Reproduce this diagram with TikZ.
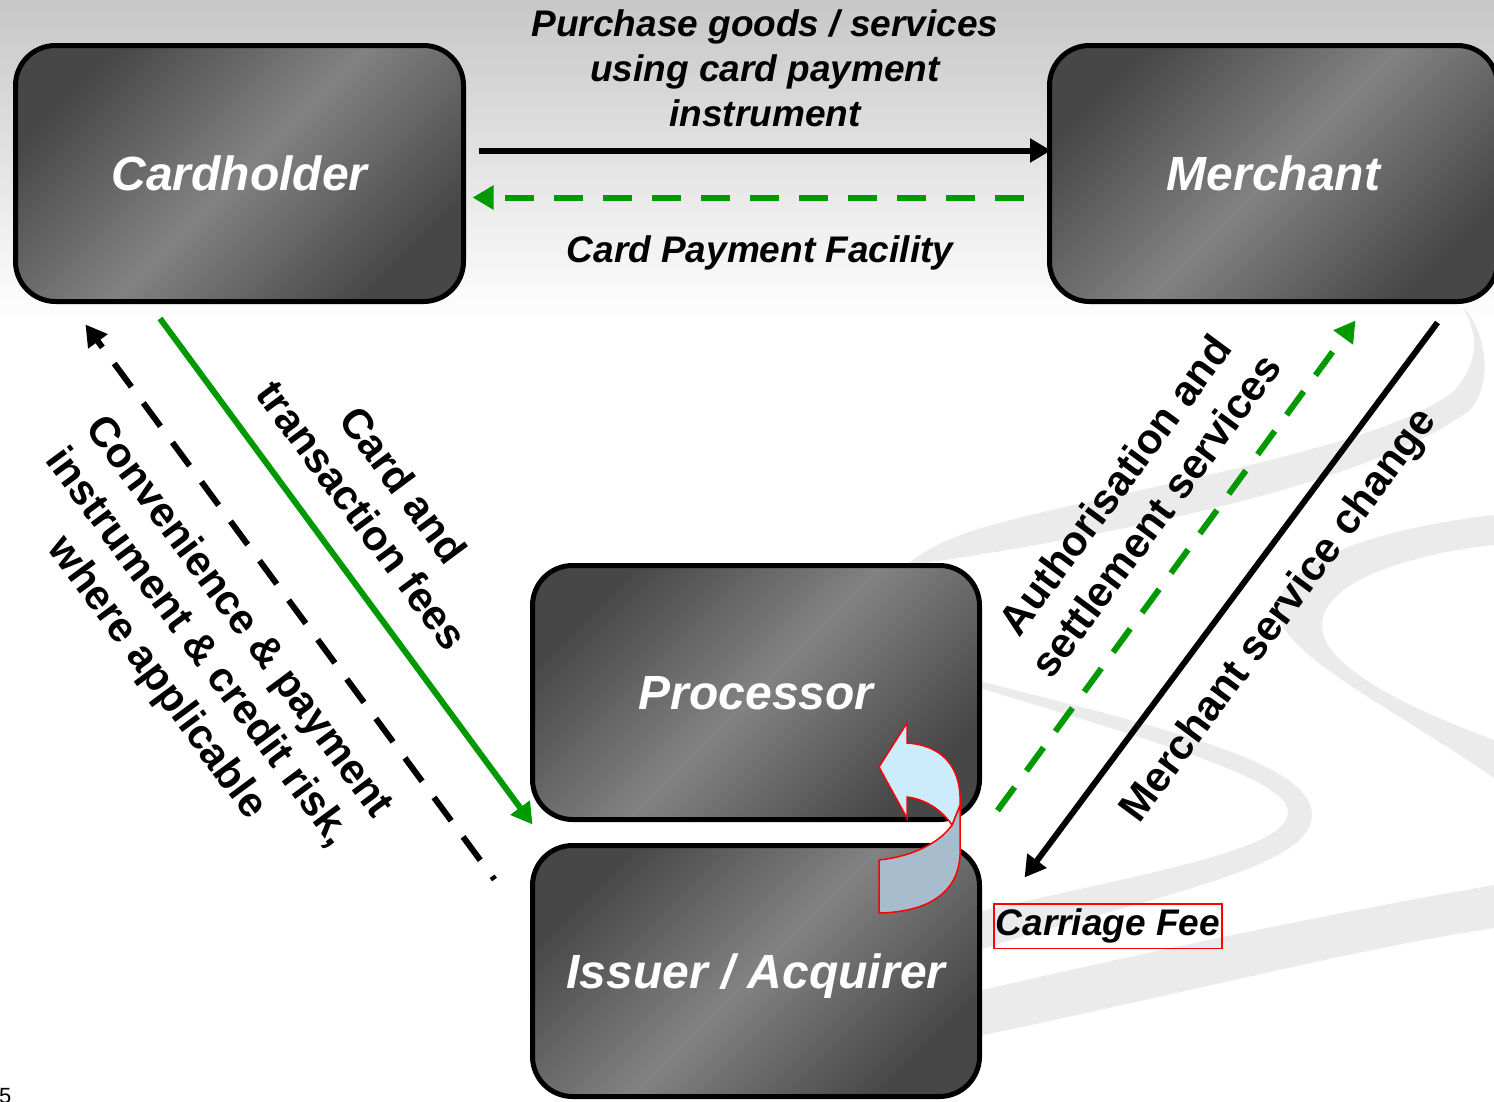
\documentclass[tikz,border=0pt]{standalone}
\usepackage{fontspec}
\setmainfont{Liberation Sans}
\usetikzlibrary{arrows.meta,calc}
\definecolor{flowgreen}{HTML}{009900}
\definecolor{swoosh}{HTML}{EBEBEB}
\definecolor{turnfront}{HTML}{CCEBFB}
\definecolor{turnback}{HTML}{A7BDCE}

\begin{document}
\begin{tikzpicture}[x=1pt, y=-1pt,
        party/.style = {draw, line width=5pt, rounded corners=40pt, inner sep=0pt,
                        top color=black!72, bottom color=black!72, middle color=black!49, shading angle=45,
                        text=white, text depth=0pt, font=\fontsize{48}{58}\selectfont\bfseries\itshape,
                        minimum width=448pt, minimum height=256pt},
        flowtext/.style = {inner sep=0pt, align=center, font=\fontsize{37}{45}\selectfont\bfseries\itshape},
        sidetext/.style = {inner sep=0pt, align=center, font=\fontsize{42}{51}\selectfont\bfseries},
        flow/.style = {line width=6pt, -{Triangle[length=21pt,width=23pt]}},
        broken/.style = {flow, dash pattern=on 29pt off 20pt}]

    \useasboundingbox (0,0) rectangle (1494,1101);
    \shade[top color=black!22, bottom color=white] (0,0) rectangle (1494,320);

    \fill[swoosh] (905,566) .. controls (1000,552) and (1350,500) .. (1470,410)
        .. controls (1495,380) and (1485,330) .. (1463,307)
        .. controls (1478,335) and (1480,360) .. (1455,390)
        .. controls (1390,445) and (1150,485) .. (1010,520)
        .. controls (960,533) and (930,545) .. (905,566) -- cycle;
    \fill[swoosh] (1494,515) .. controls (1380,528) and (1285,560) .. (1278,605)
        .. controls (1272,650) and (1380,700) .. (1494,778) -- (1494,740)
        .. controls (1400,705) and (1322,665) .. (1322,625)
        .. controls (1322,585) and (1400,555) .. (1494,545) -- cycle;
    \fill[swoosh] (960,676) .. controls (1150,725) and (1312,760) .. (1312,815)
        .. controls (1312,870) and (1150,895) .. (960,956) -- (960,916)
        .. controls (1150,872) and (1288,850) .. (1288,812)
        .. controls (1288,778) and (1150,740) .. (960,682) -- cycle;
    \fill[swoosh] (960,995) .. controls (1200,940) and (1350,910) .. (1494,885) -- (1494,928)
        .. controls (1350,950) and (1200,990) .. (960,1040) -- cycle;

    \node[party] (holder) at (239.5,173.5) {Cardholder};
    \node[party] (merchant) at (1273.5,173.5) {Merchant};
    \node[party, minimum width=447pt, minimum height=254pt] (processor) at (756,692.5) {Processor};
    \node[party, minimum width=447pt, minimum height=251pt] (issuer) at (756,971) {Issuer / Acquirer};

    \node[flowtext, anchor=north] (purchase) at (765,9) {Purchase goods / services\\using card payment\\instrument};
    \node[flowtext, anchor=base] (facility) at (760,262) {Card Payment Facility};
    \node[sidetext, rotate=-53.5] (fees) at (383,500) {Card and\\transaction fees};
    \node[sidetext, rotate=-53.5] (risk) at (197,648) {Convenience \& payment\\instrument \& credit risk,\\where applicable};
    \node[sidetext, rotate=53.5] (services) at (1135,500) {Authorisation and\\settlement services};
    \node[sidetext, rotate=53.5] (charge) at (1280,616) {Merchant service change};
    \node[flowtext, draw=red, line width=1.5pt, inner xsep=2pt, inner ysep=5pt] (carriage) at (1108,926) {Carriage Fee};
    \node[anchor=base west, inner sep=0pt, font=\fontsize{22}{26}\selectfont] (page) at (-1,1103) {5};

    \draw[flow] ($(holder.east)+(12.5,-23)$) -- ($(merchant.west)+(4,-23)$);
    \draw[broken, flowgreen] ($(merchant.west)+(-23.5,24)$) -- ($(holder.east)+(6.5,24)$);
    \draw[flow, flowgreen] ($(holder.south)+(-79.5,14.5)$) -- ($(processor.south west)+(2.5,2.5)$);
    \draw[broken, dash phase=25pt] ($(issuer.north west)+(-35.5,36.5)$) -- ($(holder.south west)+(72.5,20.5)$);
    \draw[broken, flowgreen] ($(processor.south east)+(15.5,-11.5)$) -- ($(merchant.south west)+(308.5,16.5)$);
    \draw[flow] ($(merchant.south east)+(-62.5,18.5)$) -- ($(issuer.north east)+(42.5,34.5)$);

    \filldraw[fill=turnback, draw=red, line width=1.5pt] (879,860) .. controls (915,856) and (940,842) .. (952,825)
        -- (960,805) -- (960,855) .. controls (958,895) and (925,912) .. (879,913) -- cycle;
    \filldraw[fill=turnfront, draw=red, line width=1.5pt] (960,805) .. controls (962,765) and (940,745) .. (907,743)
        -- (907,723) -- (879,767) -- (907,818) -- (907,797) .. controls (925,799) and (942,810) .. (952,825) -- cycle;
\end{tikzpicture}
\end{document}
